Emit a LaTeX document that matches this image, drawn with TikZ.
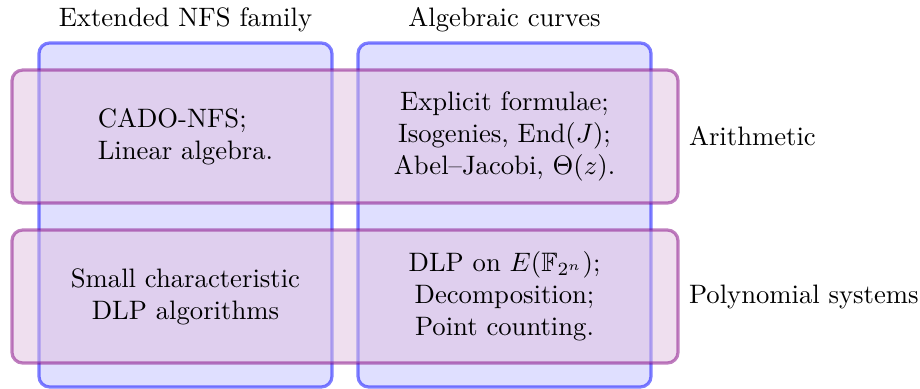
\documentclass[tikz,border=0pt]{standalone}
\usepackage{amsmath, amssymb}

\tikzset{
	colbox/.style={draw=blue, fill=blue!25, opacity=0.5, very thick, rounded corners, minimum width=3.863cm, minimum height=4.535cm},
	rowbox/.style={draw=violet, fill=violet!25, opacity=0.5, very thick, rounded corners, minimum width=8.780cm, minimum height=1.753cm},
	cell/.style={align=center}
}

\begin{document}
\begin{tikzpicture}
		\useasboundingbox (0,0) rectangle (12.128,-5.115);

		\node [colbox] (nfs) at (2.445,-2.834) {};

		\node [colbox] (curves) at (6.651,-2.834) {};

		\node [rowbox] (arith) at (4.548,-1.800) {};

		\node [rowbox] (poly) at (4.548,-3.909) {};

		\node [above] (nfslabel) at (nfs.north) {Extended NFS family};
		\node [above] (curveslabel) at (curves.north) {Algebraic curves};

		\node [right] (arithlabel) at (arith.east) {Arithmetic};
		\node [right] (polylabel) at (poly.east) {Polynomial systems};

		\node [cell, align=left] (nfsarith) at (nfs.center |- arith.center) {CADO-NFS;\\ Linear algebra.};
		\node [cell] (curvesarith) at (curves.center |- arith.center) {Explicit formulae;\\ Isogenies, $\mathrm{End}(J)$;\\ Abel--Jacobi, $\Theta(z)$.};

		\node [cell] (nfspoly) at (nfs.center |- poly.center) {Small characteristic\\ DLP algorithms};
		\node [cell] (curvespoly) at (curves.center |- poly.center) {DLP on $E(\mathbb{F}_{2^n})$;\\ Decomposition;\\ Point counting.};
	\end{tikzpicture}
\end{document}
